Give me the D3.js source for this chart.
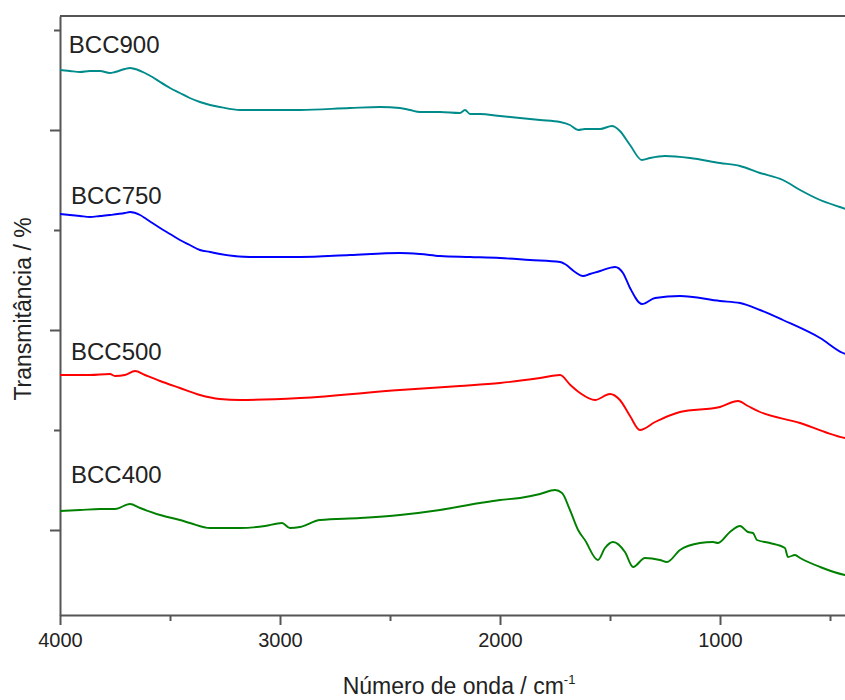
<!DOCTYPE html>
<html>
<head>
<meta charset="utf-8">
<script src="https://cdn.jsdelivr.net/npm/d3@7"></script>
<style>
  body { margin: 0; background: #fff; }
  svg text { font-family: "Liberation Sans", Arial, sans-serif; }
</style>
</head>
<body>
<div id="chart"></div>
<script>
// Each spectrum: [wavenumber (cm-1), transmittance (arb. units, offset)]
var bcc900 = [[4000,4.60],[3955,4.59],[3909,4.58],[3864,4.59],[3818,4.59],[3773,4.57],[3750,4.58],[3705,4.61],
  [3682,4.62],[3659,4.61],[3614,4.57],[3580,4.53],[3545,4.48],[3500,4.42],[3455,4.37],[3410,4.32],[3364,4.28],
  [3318,4.25],[3273,4.23],[3182,4.20],[3091,4.20],[2909,4.20],[2682,4.22],[2545,4.23],[2455,4.22],[2409,4.20],
  [2364,4.18],[2273,4.18],[2182,4.17],[2159,4.20],[2136,4.16],[2091,4.16],[2000,4.14],[1909,4.12],[1818,4.10],
  [1727,4.08],[1682,4.05],[1645,4.00],[1614,4.01],[1545,4.01],[1491,4.04],[1477,4.03],[1455,3.99],[1409,3.85],
  [1355,3.70],[1318,3.72],[1250,3.74],[1136,3.72],[1000,3.67],[909,3.64],[818,3.57],[714,3.50],[636,3.40],
  [545,3.30],[455,3.23],[400,3.19]];

var bcc750 = [[4000,3.16],[3955,3.15],[3909,3.14],[3864,3.13],[3818,3.14],[3773,3.15],[3705,3.17],[3682,3.18],
  [3636,3.15],[3614,3.12],[3580,3.07],[3545,3.02],[3500,2.96],[3455,2.90],[3410,2.85],[3364,2.80],[3318,2.78],
  [3273,2.76],[3136,2.73],[2909,2.73],[2682,2.75],[2455,2.77],[2364,2.76],[2273,2.74],[2136,2.73],[2000,2.72],
  [1864,2.70],[1727,2.68],[1705,2.66],[1659,2.58],[1623,2.54],[1591,2.56],[1545,2.59],[1477,2.63],[1441,2.57],
  [1409,2.42],[1355,2.26],[1295,2.32],[1182,2.34],[1000,2.29],[909,2.27],[818,2.20],[714,2.10],[545,1.92],
  [441,1.77],[400,1.74]];

var bcc500 = [[4000,1.55],[3864,1.55],[3773,1.56],[3750,1.54],[3705,1.55],[3659,1.59],[3614,1.55],[3545,1.49],
  [3455,1.42],[3364,1.35],[3273,1.31],[3182,1.30],[2909,1.32],[2455,1.40],[2182,1.44],[2000,1.47],[1818,1.52],
  [1727,1.55],[1680,1.45],[1636,1.37],[1568,1.30],[1500,1.36],[1455,1.30],[1409,1.14],[1364,1.00],[1295,1.08],
  [1182,1.18],[1000,1.23],[918,1.29],[873,1.24],[818,1.18],[636,1.07],[523,0.98],[432,0.92],[400,0.91]];

var bcc400 = [[4000,0.19],[3909,0.20],[3818,0.21],[3750,0.21],[3682,0.26],[3636,0.22],[3545,0.15],[3455,0.10],
  [3409,0.07],[3318,0.02],[3182,0.02],[3068,0.04],[2991,0.07],[2955,0.02],[2909,0.03],[2818,0.10],[2636,0.12],
  [2455,0.15],[2273,0.20],[2091,0.27],[2000,0.30],[1909,0.32],[1818,0.36],[1750,0.40],[1718,0.37],[1682,0.20],
  [1645,0.00],[1614,-0.10],[1555,-0.30],[1523,-0.18],[1486,-0.12],[1432,-0.22],[1395,-0.37],[1341,-0.28],
  [1273,-0.30],[1241,-0.32],[1182,-0.20],[1091,-0.13],[1032,-0.12],[1009,-0.13],[955,-0.02],[909,0.04],
  [873,-0.02],[850,-0.03],[832,-0.10],[773,-0.13],[705,-0.18],[691,-0.27],[659,-0.25],[636,-0.28],[545,-0.37],
  [432,-0.45],[400,-0.46]];

var seriesNames = ["BCC900", "BCC750", "BCC500", "BCC400"];
var seriesData = [bcc900, bcc750, bcc500, bcc400];
var seriesColors = ["#008b8b", "#0000ff", "#ff0000", "#008000"];
// label placement: [wavenumber, transmittance] of the text baseline start
var labelPos = [[3960, 4.77], [3950, 3.26], [3950, 1.70], [3950, 0.47]];

var xMajorTicks = [4000, 3000, 2000, 1000];
var xMinorTicks = [3500, 2500, 1500, 500];
var yMajorTicks = [0, 2, 4];
var yMinorTicks = [1, 3, 5];

var width = 845, height = 700;
var plotLeft = 60, plotRight = 852, plotTop = 16, plotBottom = 615;

var x = d3.scaleLinear().domain([4000, 400]).range([plotLeft, plotRight]);
var y = d3.scaleLinear().domain([-0.85, 5.14]).range([plotBottom, plotTop]);

var svg = d3.select("#chart").append("svg")
    .attr("width", width)
    .attr("height", height);

svg.append("clipPath").attr("id", "plotclip")
  .append("rect")
    .attr("x", plotLeft).attr("y", plotTop)
    .attr("width", plotRight - plotLeft).attr("height", plotBottom - plotTop);

var axisColor = "#555";

// x axis (major + minor)
var gx = svg.append("g")
    .attr("transform", "translate(0," + plotBottom + ")")
    .call(d3.axisBottom(x).tickValues(xMajorTicks).tickSize(10).tickSizeOuter(0)
          .tickPadding(8).tickFormat(d3.format("d")));
svg.append("g")
    .attr("transform", "translate(0," + plotBottom + ")")
    .call(d3.axisBottom(x).tickValues(xMinorTicks).tickSize(6).tickFormat(""))
    .select(".domain").remove();

// y axis, no labels
svg.append("g")
    .attr("transform", "translate(" + plotLeft + ",0)")
    .call(d3.axisLeft(y).tickValues(yMajorTicks).tickSize(10).tickSizeOuter(0).tickFormat(""));
svg.append("g")
    .attr("transform", "translate(" + plotLeft + ",0)")
    .call(d3.axisLeft(y).tickValues(yMinorTicks).tickSize(6).tickFormat(""))
    .select(".domain").remove();

svg.selectAll(".domain, .tick line")
    .attr("stroke", axisColor)
    .attr("stroke-width", 2);
gx.selectAll(".tick text")
    .attr("font-size", "20px")
    .attr("font-family", "'Liberation Sans', Arial, sans-serif")
    .attr("fill", "#222");

// top frame line
svg.append("line")
    .attr("x1", plotLeft).attr("x2", plotRight)
    .attr("y1", plotTop).attr("y2", plotTop)
    .attr("stroke", axisColor)
    .attr("stroke-width", 2);

var line = d3.line()
    .curve(d3.curveMonotoneX)
    .x(function(d) { return x(d[0]); })
    .y(function(d) { return y(d[1]); });

svg.append("g").attr("clip-path", "url(#plotclip)")
  .selectAll("path")
    .data(seriesData)
  .enter()
  .append("path")
    .attr("d", line)
    .attr("fill", "none")
    .attr("stroke", function(d, i) { return seriesColors[i]; })
    .attr("stroke-width", 1.9)
    .attr("stroke-linejoin", "round");

svg.selectAll(".serieslabel")
    .data(seriesNames)
  .enter()
  .append("text")
    .attr("class", "serieslabel")
    .attr("x", function(d, i) { return x(labelPos[i][0]); })
    .attr("y", function(d, i) { return y(labelPos[i][1]); })
    .attr("font-size", "24px")
    .attr("fill", "#222")
    .text(function(d) { return d; });

// axis titles
var xt = svg.append("text")
    .attr("x", 459)
    .attr("y", 694)
    .attr("text-anchor", "middle")
    .attr("font-size", "23px")
    .attr("fill", "#222");
xt.append("tspan").text("Número de onda / cm");
xt.append("tspan").attr("font-size", "13px").attr("dy", "-10").text("-1");

svg.append("text")
    .attr("transform", "translate(31,309) rotate(-90)")
    .attr("text-anchor", "middle")
    .attr("font-size", "23px")
    .attr("fill", "#222")
    .text("Transmitância / %");
</script>
</body>
</html>
